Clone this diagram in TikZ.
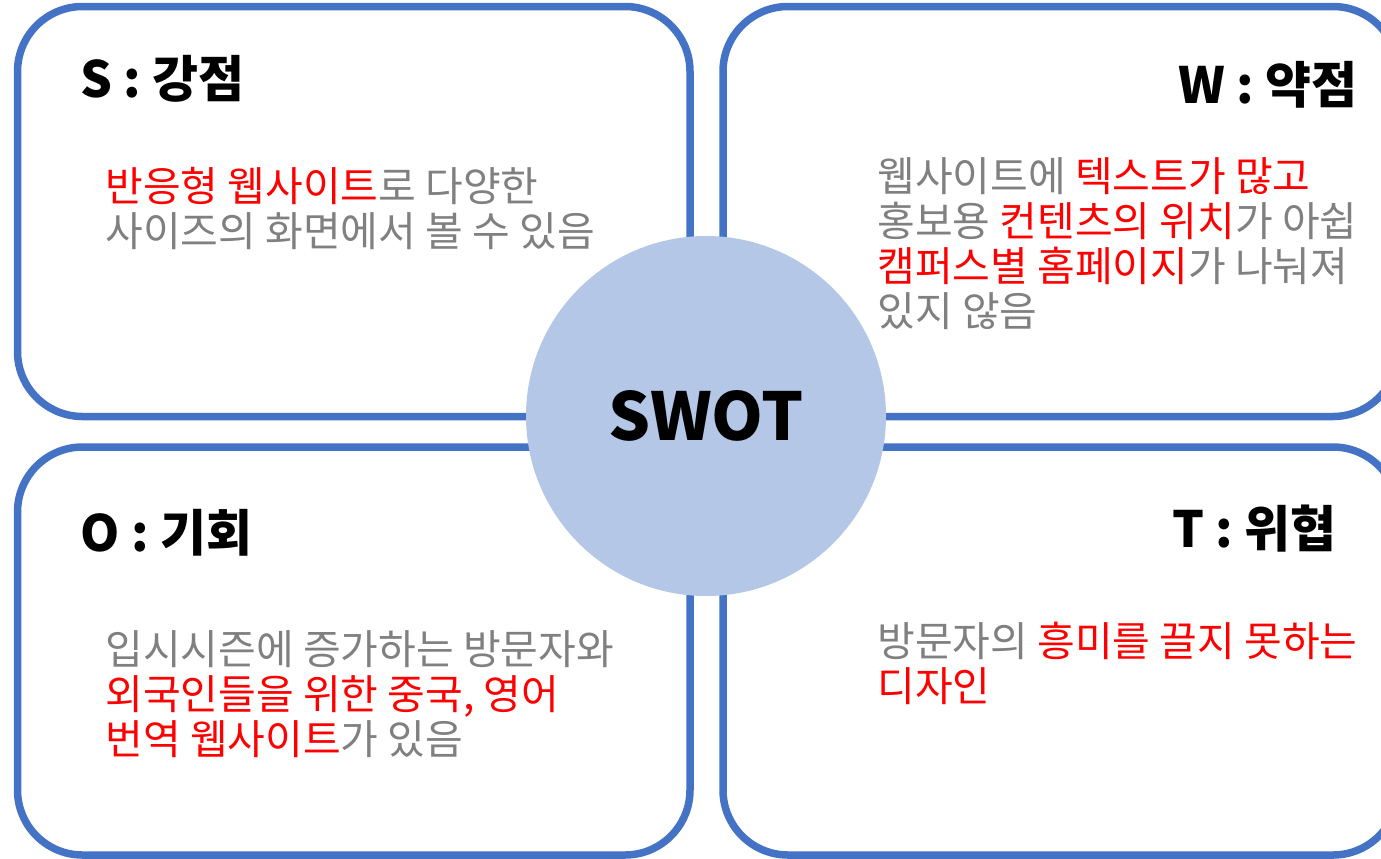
\documentclass[tikz,border=0pt]{standalone}
\usepackage{fontspec}
\setmainfont{Noto Sans CJK KR}
\usepackage{xcolor}
\usepackage{tikz}

\definecolor{swotblue}{HTML}{4472C4}
\definecolor{swotfill}{HTML}{B4C7E7}
\definecolor{swotgray}{HTML}{808080}
\definecolor{swotred}{HTML}{FF0000}

\newcommand{\hl}[1]{\textcolor{swotred}{#1}}

\begin{document}
\begin{tikzpicture}[x=0.5pt, y=-0.5pt,
    panel/.style = {rectangle, draw=swotblue, line width=3.75pt,
                    rounded corners=32.5pt, inner sep=0pt},
    title/.style = {inner sep=0pt, font=\fontsize{25}{30}\selectfont\bfseries},
    body/.style = {inner sep=0pt, align=left, text=swotgray,
                   font=\fontsize{20.5}{22.5}\selectfont}]
  \useasboundingbox (0,0) rectangle (1381,858);
  \clip (0,0) rectangle (1381,858);

  % four panels
  \node (spanel) [panel, minimum width=336.25pt, minimum height=205pt] at (353.75,211.5) {};
  \node (wpanel) [panel, minimum width=337.5pt, minimum height=205pt] at (1060.5,211.5) {};
  \node (opanel) [panel, minimum width=336.25pt, minimum height=204pt] at (353.75,651) {};
  \node (tpanel) [panel, minimum width=337.5pt, minimum height=204pt] at (1060.5,651) {};

  % centre
  \node (swot) [circle, fill=swotfill, minimum size=180pt, inner sep=0pt,
                font=\fontsize{33}{38}\selectfont\bfseries] at (706,416) {SWOT};

  % headings
  \node (stitle) [title, anchor=base west] at (80,97) {S : 강점};
  \node (wtitle) [title, anchor=base east] at (1358,103) {W : 약점};
  \node (otitle) [title, anchor=base west] at (80,551) {O : 기회};
  \node (ttitle) [title, anchor=base east] at (1337,547) {T : 위협};

  % texts (base = last line)
  \node (stext) [body, anchor=base west] at (105,246)
    {\hl{반응형 웹사이트}로 다양한\\사이즈의 화면에서 볼 수 있음};
  \node (wtext) [body, anchor=base west] at (877,326)
    {웹사이트에 \hl{텍스트가 많고}\\홍보용 \hl{컨텐츠의 위치}가 아쉽\\
     \hl{캠퍼스별 홈페이지}가 나눠져\\있지 않음};
  \node (otext) [body, anchor=base west] at (105,754)
    {입시시즌에 증가하는 방문자와\\\hl{외국인들을 위한 중국, 영어}\\
     \hl{번역 웹사이트}가 있음};
  \node (ttext) [body, anchor=base west] at (877,701)
    {방문자의 \hl{흥미를 끌지 못하는}\\\hl{디자인}};
\end{tikzpicture}
\end{document}
